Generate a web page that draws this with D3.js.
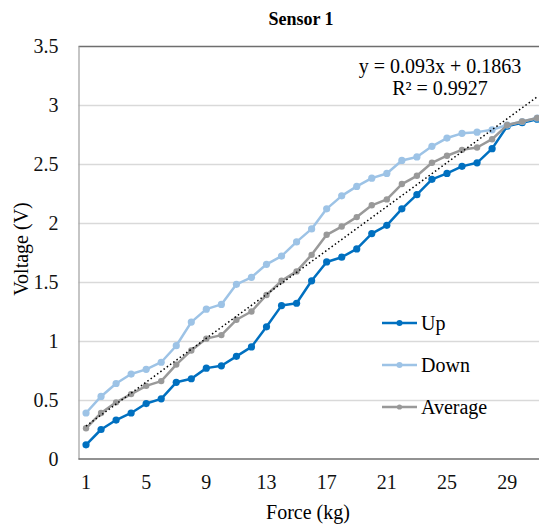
<!DOCTYPE html>
<html>
<head>
<meta charset="utf-8">
<script src="https://cdn.jsdelivr.net/npm/d3@7"></script>
<style>
  body { margin: 0; background: #fff; }
  svg { display: block; }
  svg text { font-family: "Liberation Serif", Tinos, "Times New Roman", Times, "Nimbus Roman", "DejaVu Serif", serif; }
</style>
</head>
<body>
<div class="svg-container"></div>
<script>
// force categories (kg)
var force = d3.range(1, 32);

// sensor readings (V)
var up = [0.12, 0.25, 0.33, 0.39, 0.47, 0.51, 0.65, 0.68, 0.77, 0.79, 0.87, 0.95, 1.12, 1.30, 1.32, 1.51,
  1.67, 1.71, 1.78, 1.91, 1.98, 2.12, 2.24, 2.37, 2.42, 2.48, 2.51, 2.63, 2.82, 2.85, 2.88];
var down = [0.39, 0.53, 0.64, 0.72, 0.76, 0.82, 0.96, 1.16, 1.27, 1.31, 1.48, 1.54, 1.65, 1.72, 1.84, 1.95,
  2.12, 2.23, 2.31, 2.38, 2.42, 2.53, 2.56, 2.65, 2.72, 2.76, 2.77, 2.79, 2.83, 2.86, 2.89];
var average = [0.26, 0.39, 0.48, 0.55, 0.62, 0.66, 0.80, 0.92, 1.02, 1.05, 1.18, 1.25, 1.39, 1.51, 1.59, 1.73,
  1.90, 1.97, 2.05, 2.15, 2.20, 2.33, 2.40, 2.51, 2.57, 2.62, 2.64, 2.71, 2.83, 2.86, 2.89];

var seriesNames = ["Up", "Down", "Average"];
var xTicks = [1, 5, 9, 13, 17, 21, 25, 29];
var yTicks = [0, 0.5, 1, 1.5, 2, 2.5, 3, 3.5];

// linear trendline of the average
var trendSlope = 0.093, trendIntercept = 0.1863;
var trendLabel = ["y = 0.093x + 0.1863", "R\u00B2 = 0.9927"];

var width = 539, height = 524;
var margin = {top: 46, left: 78.5, bottom: 65};
var band = 15.04;

var svg = d3.select(".svg-container").append("svg")
  .attr("width", width)
  .attr("height", height);

var x = d3.scaleBand()
  .domain(force)
  .range([margin.left, margin.left + force.length * band]);
var xc = function(d) { return x(d) + x.bandwidth() / 2; };

var y = d3.scaleLinear()
  .domain([0, 3.5])
  .range([height - margin.bottom, margin.top]);

// gridlines
svg.append("g")
  .selectAll("line")
  .data(yTicks.slice(1))
  .enter().append("line")
  .attr("x1", margin.left)
  .attr("x2", width)
  .attr("y1", function(d) { return Math.round(y(d)) + 0.5; })
  .attr("y2", function(d) { return Math.round(y(d)) + 0.5; })
  .style("stroke", function(d) { return d == 3.5 ? "#6e6e6e" : "#d9d9d9"; })
  .style("stroke-width", 1.3);

// y axis
var yAxis = svg.append("g")
  .attr("transform", "translate(" + margin.left + ",0)")
  .call(d3.axisLeft(y).tickValues(yTicks).tickSize(0).tickPadding(20)
    .tickFormat(function(d) { return String(d); }));
yAxis.attr("font-family", null).attr("font-size", null);
yAxis.select(".domain").style("stroke", "#a6a6a6").style("stroke-width", 1.3);
yAxis.selectAll("text").style("font-size", "20px").attr("fill", "#111");

// x axis
var xAxis = svg.append("g")
  .attr("transform", "translate(0," + y(0) + ")")
  .call(d3.axisBottom(x).tickValues(xTicks).tickSize(0).tickPadding(16));
xAxis.attr("font-family", null).attr("font-size", null);
xAxis.select(".domain").attr("d", "M" + margin.left + ",0H" + width).style("stroke", "#6e6e6e").style("stroke-width", 1.3);
xAxis.selectAll("text").style("font-size", "20px").attr("fill", "#111");

// axis titles
svg.append("text")
  .attr("x", 308)
  .attr("y", 519)
  .style("text-anchor", "middle")
  .style("font-size", "20px")
  .text("Force (kg)");

svg.append("text")
  .attr("transform", "rotate(-90)")
  .attr("x", -249)
  .attr("y", 28)
  .style("text-anchor", "middle")
  .style("font-size", "20px")
  .text("Voltage (V)");

// chart title
svg.append("text")
  .attr("x", 301)
  .attr("y", 25)
  .style("text-anchor", "middle")
  .style("font-size", "18px")
  .style("font-weight", "bold")
  .text("Sensor 1");

var series = [
  {name: seriesNames[0], values: up, color: "#0070c0", r: 3.6},
  {name: seriesNames[1], values: down, color: "#9dc3e6", r: 3.6},
  {name: seriesNames[2], values: average, color: "#999999", r: 3.2}
];

var line = d3.line()
  .x(function(d, i) { return xc(force[i]); })
  .y(function(d) { return y(d); });

series.forEach(function(s) {
  svg.append("path")
    .datum(s.values)
    .attr("d", line)
    .style("fill", "none")
    .style("stroke", s.color)
    .style("stroke-width", 2.5)
    .style("stroke-linejoin", "round");

  svg.append("g").selectAll("circle")
    .data(s.values)
    .enter().append("circle")
    .attr("cx", function(d, i) { return xc(force[i]); })
    .attr("cy", function(d) { return y(d); })
    .attr("r", s.r)
    .style("fill", s.color);
});

// trendline
var first = force[0], last = force[force.length - 1];
svg.append("line")
  .attr("x1", xc(first))
  .attr("y1", y(trendSlope * first + trendIntercept))
  .attr("x2", xc(last))
  .attr("y2", y(trendSlope * last + trendIntercept))
  .style("stroke", "#000")
  .style("stroke-width", 1.5)
  .style("stroke-dasharray", "1.5,2.5");

// trendline label
svg.append("g").selectAll("text")
  .data(trendLabel)
  .enter().append("text")
  .attr("x", 440)
  .attr("y", function(d, i) { return 73 + i * 22; })
  .style("text-anchor", "middle")
  .style("font-size", "20px")
  .text(function(d) { return d; });

// legend
var legend = svg.append("g").selectAll("g")
  .data(series)
  .enter().append("g")
  .attr("transform", function(d, i) { return "translate(382," + (323 + i * 42) + ")"; });

legend.append("line")
  .attr("x1", 0).attr("x2", 35)
  .style("stroke", function(d) { return d.color; })
  .style("stroke-width", 2.5);

legend.append("circle")
  .attr("cx", 17.5)
  .attr("r", function(d) { return d.r - 0.6; })
  .style("fill", function(d) { return d.color; });

legend.append("text")
  .attr("x", 39)
  .attr("y", 7)
  .style("font-size", "20px")
  .text(function(d) { return d.name; });
</script>
</body>
</html>
